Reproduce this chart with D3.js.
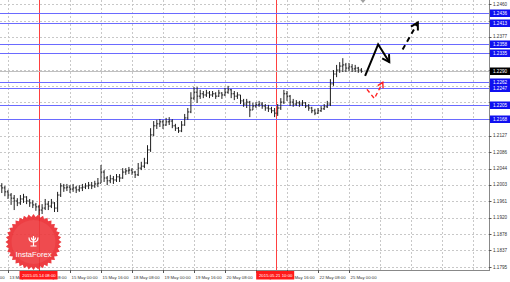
<!DOCTYPE html>
<html lang="en">
<head>
<meta charset="UTF-8">
<script src="https://cdn.jsdelivr.net/npm/d3@7"></script>
<title>USDCAD H1</title>
<style>
  body { margin: 0; background: #fff; }
  svg { display: block; font-family: "Liberation Sans", Arial, sans-serif; }
</style>
</head>
<body>
<svg width="510" height="282"></svg>
<script>
// bars
var opens = [1.2000,1.1995,1.1985,1.1977,1.1969,1.1962,1.1957,1.1967,1.1972,1.1962,
  1.1957,1.1952,1.1947,1.1939,1.1944,1.1954,1.1949,1.1957,1.1944,1.1977,
  1.2000,1.1995,1.1997,1.1992,1.1995,1.1990,1.1995,1.1997,1.2000,1.2002,
  1.2000,1.2005,1.2007,1.2035,1.2020,1.2013,1.2018,1.2015,1.2023,1.2020,
  1.2035,1.2038,1.2040,1.2035,1.2028,1.2045,1.2050,1.2058,1.2091,1.2129,
  1.2152,1.2157,1.2162,1.2154,1.2162,1.2164,1.2152,1.2146,1.2139,1.2154,
  1.2172,1.2187,1.2222,1.2237,1.2227,1.2233,1.2230,1.2235,1.2230,1.2233,
  1.2227,1.2235,1.2230,1.2237,1.2243,1.2233,1.2227,1.2230,1.2215,1.2207,
  1.2212,1.2192,1.2202,1.2205,1.2207,1.2202,1.2197,1.2195,1.2190,1.2184,
  1.2197,1.2212,1.2233,1.2227,1.2212,1.2207,1.2210,1.2207,1.2210,1.2202,
  1.2197,1.2190,1.2184,1.2190,1.2195,1.2200,1.2207,1.2258,1.2283,1.2293,
  1.2303,1.2306,1.2298,1.2301,1.2296,1.2298,1.2293];
var highs = [1.2007,1.2000,1.1990,1.1982,1.1977,1.1969,1.1977,1.1980,1.1974,1.1967,
  1.1964,1.1957,1.1952,1.1954,1.1967,1.1962,1.1967,1.1959,1.1985,1.2007,
  1.2005,1.2005,1.2002,1.2005,1.2000,1.2002,1.2005,1.2007,1.2010,1.2010,
  1.2013,1.2020,1.2053,1.2040,1.2025,1.2028,1.2025,1.2030,1.2030,1.2045,
  1.2045,1.2048,1.2045,1.2038,1.2058,1.2061,1.2071,1.2103,1.2146,1.2164,
  1.2167,1.2169,1.2167,1.2172,1.2174,1.2169,1.2157,1.2149,1.2164,1.2182,
  1.2197,1.2237,1.2250,1.2250,1.2243,1.2240,1.2243,1.2240,1.2240,1.2237,
  1.2243,1.2237,1.2248,1.2253,1.2245,1.2240,1.2237,1.2230,1.2220,1.2220,
  1.2215,1.2210,1.2212,1.2215,1.2212,1.2207,1.2205,1.2200,1.2197,1.2207,
  1.2222,1.2243,1.2240,1.2230,1.2220,1.2217,1.2215,1.2217,1.2212,1.2207,
  1.2200,1.2195,1.2197,1.2202,1.2207,1.2215,1.2270,1.2293,1.2306,1.2313,
  1.2323,1.2311,1.2311,1.2308,1.2306,1.2301,1.2298];
var lows = [1.1982,1.1974,1.1967,1.1952,1.1939,1.1949,1.1952,1.1957,1.1954,1.1947,
  1.1944,1.1937,1.1926,1.1929,1.1939,1.1939,1.1944,1.1934,1.1934,1.1972,
  1.1985,1.1987,1.1982,1.1985,1.1982,1.1985,1.1987,1.1992,1.1992,1.1992,
  1.1995,1.1997,1.2007,1.2010,1.2002,1.2007,1.2005,1.2010,1.2010,1.2018,
  1.2028,1.2030,1.2028,1.2020,1.2025,1.2040,1.2045,1.2055,1.2086,1.2126,
  1.2144,1.2149,1.2144,1.2152,1.2154,1.2146,1.2139,1.2134,1.2136,1.2152,
  1.2167,1.2184,1.2217,1.2210,1.2220,1.2222,1.2225,1.2222,1.2225,1.2220,
  1.2225,1.2220,1.2227,1.2233,1.2222,1.2217,1.2220,1.2207,1.2200,1.2197,
  1.2174,1.2192,1.2197,1.2200,1.2195,1.2190,1.2187,1.2184,1.2174,1.2177,
  1.2192,1.2207,1.2215,1.2202,1.2200,1.2202,1.2200,1.2202,1.2197,1.2190,
  1.2184,1.2179,1.2182,1.2187,1.2192,1.2197,1.2202,1.2253,1.2275,1.2286,
  1.2288,1.2288,1.2291,1.2288,1.2288,1.2286,1.2286];
var closes = [1.1995,1.1985,1.1977,1.1969,1.1962,1.1957,1.1967,1.1972,1.1962,1.1957,
  1.1952,1.1947,1.1939,1.1944,1.1954,1.1949,1.1957,1.1944,1.1977,1.2000,
  1.1995,1.1997,1.1992,1.1995,1.1990,1.1995,1.1997,1.2000,1.2002,1.2000,
  1.2005,1.2007,1.2035,1.2020,1.2013,1.2018,1.2015,1.2023,1.2020,1.2035,
  1.2038,1.2040,1.2035,1.2028,1.2045,1.2050,1.2058,1.2091,1.2129,1.2152,
  1.2157,1.2162,1.2154,1.2162,1.2164,1.2152,1.2146,1.2139,1.2154,1.2172,
  1.2187,1.2222,1.2237,1.2227,1.2233,1.2230,1.2235,1.2230,1.2233,1.2227,
  1.2235,1.2230,1.2237,1.2243,1.2233,1.2227,1.2230,1.2215,1.2207,1.2212,
  1.2192,1.2202,1.2205,1.2207,1.2202,1.2197,1.2195,1.2190,1.2184,1.2197,
  1.2212,1.2233,1.2227,1.2212,1.2207,1.2210,1.2207,1.2210,1.2202,1.2197,
  1.2190,1.2184,1.2190,1.2195,1.2200,1.2207,1.2258,1.2283,1.2293,1.2303,
  1.2306,1.2298,1.2301,1.2296,1.2298,1.2293,1.2290];

// time axis (bar index of each label)
var timeBars = [-8, 2, 12, 22, 32, 42, 52, 62, 72, 82, 92, 102, 112];
var timeLabels = ["13 May 00:00", "13 May 16:00", "14 May 08:00", "15 May 00:00", "15 May 16:00",
  "18 May 08:00", "19 May 00:00", "19 May 16:00", "20 May 08:00", "21 May 00:00",
  "21 May 16:00", "22 May 08:00", "25 May 00:00"];
var gridBars = [2, 12, 22, 32, 42, 52, 62, 72, 82, 92, 102, 112, 122, 132, 142, 152];

// price axis
var priceTicks = [1.2460, 1.2418, 1.2377, 1.2335, 1.2294, 1.2252, 1.2211, 1.2169, 1.2127,
  1.2086, 1.2044, 1.2003, 1.1961, 1.1920, 1.1878, 1.1837, 1.1795];
var levels = [1.2436, 1.2413, 1.2358, 1.2335, 1.2262, 1.2247, 1.2205, 1.2168];
var bid = 1.2290;

// vertical markers
var markerBars = [12, 88.35];
var markerLabels = ["2015.05.14 08:00", "2015.05.21 10:00"];

// forecast arrows (bar, price)
var mainPath = [[117.2, 1.2278], [121.4, 1.2358], [125.0, 1.2313]];
var nextPath = [[129.3, 1.2345], [134.2, 1.2413]];
var altPath = [[117.8, 1.2244], [120.2, 1.2221], [122.9, 1.2262]];
var shiftBar = 116.5;

var svg = d3.select("svg");
var plotW = 489, plotH = 270;

var x = d3.scaleLinear().domain([0, 157]).range([1.8, 488.5]);
var y = d3.scaleLinear().domain([1.1795, 1.2460]).range([267, 4]);

svg.append("defs").append("clipPath").attr("id", "plot")
  .append("rect").attr("width", plotW).attr("height", plotH);

var g = svg.append("g").attr("clip-path", "url(#plot)");

// grid
g.selectAll(".hgrid").data(priceTicks).enter().append("line")
  .attr("x1", 0).attr("x2", plotW)
  .attr("y1", function(d){ return Math.round(y(d)) + 0.5 })
  .attr("y2", function(d){ return Math.round(y(d)) + 0.5 })
  .attr("stroke", "#c8c8c8").attr("stroke-dasharray", "2,2");
g.selectAll(".vgrid").data(gridBars).enter().append("line")
  .attr("x1", function(d){ return Math.round(x(d)) + 0.5 })
  .attr("x2", function(d){ return Math.round(x(d)) + 0.5 })
  .attr("y1", 0).attr("y2", plotH)
  .attr("stroke", "#c8c8c8").attr("stroke-dasharray", "2,2");

// red vertical lines
g.selectAll(".vline").data(markerBars).enter().append("line")
  .attr("x1", function(d){ return Math.round(x(d)) + 0.5 })
  .attr("x2", function(d){ return Math.round(x(d)) + 0.5 })
  .attr("y1", 0).attr("y2", plotH)
  .attr("stroke", "#ff4040").attr("stroke-width", 1);

// bid line
g.append("line")
  .attr("x1", 0).attr("x2", plotW)
  .attr("y1", Math.round(y(bid)) + 0.5).attr("y2", Math.round(y(bid)) + 0.5)
  .attr("stroke", "#c0c0c0");

// horizontal levels
g.selectAll(".level").data(levels).enter().append("line")
  .attr("x1", 0).attr("x2", plotW)
  .attr("y1", function(d){ return Math.round(y(d)) + 0.5 })
  .attr("y2", function(d){ return Math.round(y(d)) + 0.5 })
  .attr("stroke", "#6a6aff").attr("stroke-width", 1.2);

// OHLC bars
g.selectAll(".bar").data(d3.range(closes.length)).enter().append("path")
  .attr("d", function(i){
    var cx = x(i);
    return "M" + cx + "," + y(highs[i]) + "V" + y(lows[i]) +
      "M" + (cx - 1.2) + "," + y(opens[i]) + "H" + cx +
      "M" + cx + "," + y(closes[i]) + "H" + (cx + 1.2);
  })
  .attr("fill", "none").attr("stroke", "#1e1e1e").attr("stroke-width", 1);

// arrows
function px(p){ return [x(p[0]), y(p[1])] }
function head(tip, prev, len){
  var a = Math.atan2(tip[1] - prev[1], tip[0] - prev[0]);
  var w1 = [tip[0] - len * Math.cos(a - Math.PI / 6), tip[1] - len * Math.sin(a - Math.PI / 6)];
  var w2 = [tip[0] - len * Math.cos(a + Math.PI / 6), tip[1] - len * Math.sin(a + Math.PI / 6)];
  return "M" + w1 + "L" + tip + "L" + w2;
}
function arrow(pts, color, width, dash, len){
  var p = pts.map(px);
  g.append("path").attr("d", d3.line()(p))
    .attr("fill", "none").attr("stroke", color).attr("stroke-width", width)
    .attr("stroke-dasharray", dash);
  g.append("path").attr("d", head(p[p.length - 1], p[p.length - 2], len))
    .attr("fill", "none").attr("stroke", color).attr("stroke-width", width);
}
arrow(mainPath, "#000", 2, null, 8);
arrow(nextPath, "#000", 2, "5,4", 8);
arrow(altPath, "#ff2020", 1.4, "4,3", 6);

// chart shift marker
svg.append("path")
  .attr("d", "M" + (x(shiftBar) - 2.5) + ",0H" + (x(shiftBar) + 2.5) + "L" + x(shiftBar) + ",3Z")
  .attr("fill", "#a0a0a0");

// axes lines
svg.append("line").attr("x1", plotW + 0.5).attr("x2", plotW + 0.5).attr("y1", 0).attr("y2", plotH + 1)
  .attr("stroke", "#888");
svg.append("line").attr("x1", 0).attr("x2", plotW + 1).attr("y1", plotH + 0.5).attr("y2", plotH + 0.5)
  .attr("stroke", "#888");

// price labels (the ones sitting under a level box are hidden, as on the terminal)
var boxed = levels.concat([bid]);
var freeTicks = priceTicks.filter(function(t){
  return boxed.every(function(b){ return Math.abs(y(t) - y(b)) > 4.5 });
});
var yl = svg.append("g");
yl.selectAll(".pt").data(priceTicks).enter().append("line")
  .attr("x1", plotW).attr("x2", plotW + 2.5)
  .attr("y1", function(d){ return Math.round(y(d)) + 0.5 })
  .attr("y2", function(d){ return Math.round(y(d)) + 0.5 })
  .attr("stroke", "#555");
yl.selectAll(".pl").data(freeTicks).enter().append("text")
  .attr("x", plotW + 4).attr("y", function(d){ return y(d) })
  .attr("dy", "0.35em").attr("font-size", "4.6px").attr("fill", "#333")
  .text(function(d){ return d.toFixed(4) });

// level boxes
var boxes = yl.selectAll(".lb").data(levels).enter().append("g")
  .attr("transform", function(d){ return "translate(" + (plotW + 1) + "," + Math.round(y(d)) + ")" });
boxes.append("rect").attr("x", 0).attr("y", -3.5).attr("width", 20).attr("height", 7.5)
  .attr("fill", "#1010f0");
boxes.append("text").attr("x", 3).attr("y", 0.5).attr("dy", "0.35em")
  .attr("font-size", "4.6px").attr("fill", "#fff")
  .text(function(d){ return d.toFixed(4) });

var bidBox = yl.append("g").attr("transform", "translate(" + (plotW + 1) + "," + Math.round(y(bid)) + ")");
bidBox.append("rect").attr("x", 0).attr("y", -3.5).attr("width", 20).attr("height", 7.5).attr("fill", "#000");
bidBox.append("text").attr("x", 3).attr("y", 0.5).attr("dy", "0.35em")
  .attr("font-size", "4.6px").attr("fill", "#fff").text(bid.toFixed(4));

// time labels
var xl = svg.append("g");
xl.selectAll(".tt").data(timeBars).enter().append("line")
  .attr("x1", function(d){ return Math.round(x(d)) + 0.5 })
  .attr("x2", function(d){ return Math.round(x(d)) + 0.5 })
  .attr("y1", plotH).attr("y2", plotH + 3).attr("stroke", "#555");
xl.selectAll(".tl").data(timeBars).enter().append("text")
  .attr("x", function(d){ return x(d) + 1.5 }).attr("y", plotH + 8.5)
  .attr("font-size", "4.3px").attr("fill", "#333")
  .text(function(d, i){ return timeLabels[i] });

var mk = xl.selectAll(".mk").data(markerBars).enter().append("g")
  .attr("transform", function(d){ return "translate(" + x(d) + "," + (plotH + 1) + ")" });
mk.append("rect").attr("x", -19.5).attr("y", 0).attr("width", 38).attr("height", 8.5).attr("fill", "#ff1a1a");
mk.append("text").attr("x", 0).attr("y", 6.2).attr("text-anchor", "middle")
  .attr("font-size", "4.3px").attr("fill", "#fff")
  .text(function(d, i){ return markerLabels[i] });

// watermark logo
var logo = svg.append("g").attr("transform", "translate(33.5,242)").attr("opacity", 0.9);
var teeth = 36, pts = [];
for (var k = 0; k < teeth * 2; k++) {
  var r = k % 2 ? 25.2 : 28, a = Math.PI * k / teeth;
  pts.push([r * Math.cos(a), r * Math.sin(a)]);
}
logo.append("path").attr("d", d3.line()(pts) + "Z").attr("fill", "#ec2a2f");
logo.append("circle").attr("r", 22).attr("fill", "#f0454a").attr("opacity", 0.5);
logo.append("path")
  .attr("d", "M0,-6V4M-4.5,-4.5Q-4.5,0 0,0Q4.5,0 4.5,-4.5M-3,4H3M-2,-4.5Q-2,-2 0,-2Q2,-2 2,-4.5")
  .attr("fill", "none").attr("stroke", "#fff").attr("stroke-width", 1.2);
logo.append("text").attr("x", 0).attr("y", 14.5).attr("text-anchor", "middle")
  .attr("font-size", "7.6px").attr("fill", "#fff").text("InstaForex");
</script>
</body>
</html>
